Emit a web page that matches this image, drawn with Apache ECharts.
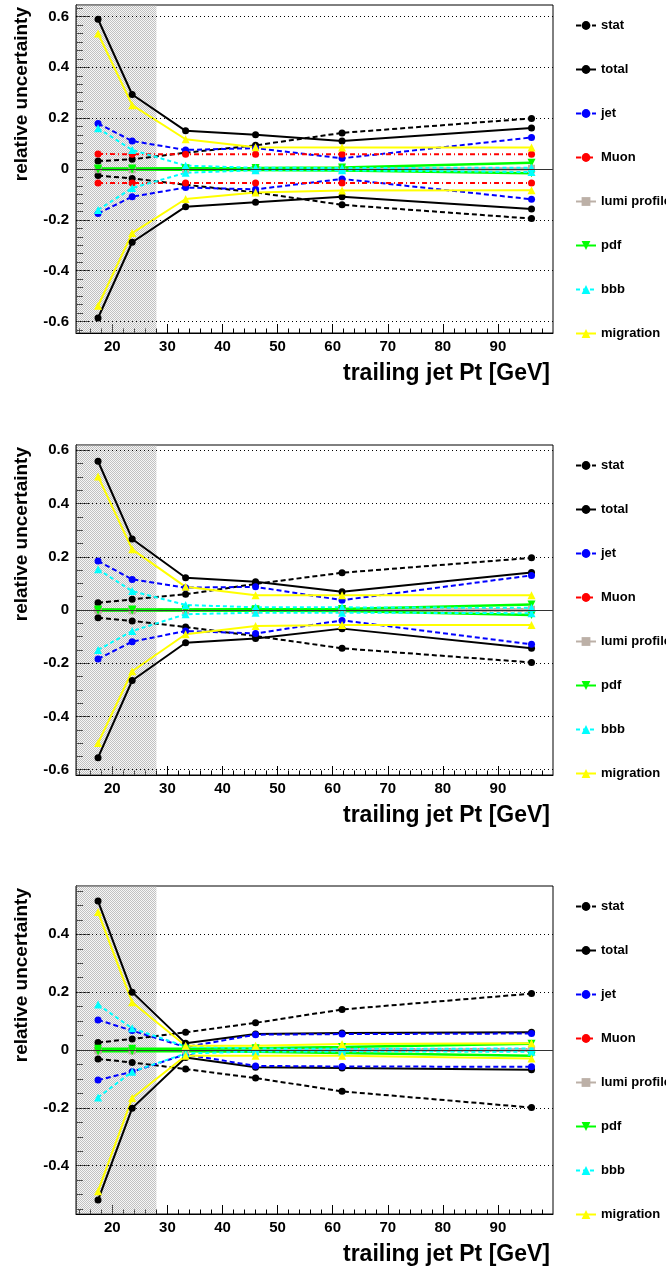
<!DOCTYPE html>
<html><head><meta charset="utf-8">
<script src="https://cdn.jsdelivr.net/npm/echarts@6/dist/echarts.min.js"></script>
<style>html,body{margin:0;padding:0;background:#fff}#c{width:666px;height:1272px}</style>
</head><body><div id="c"></div>
<script>
// ---- data (x positions of bins, GeV) ----
const ptX = [17.4, 23.6, 33.3, 46.0, 61.7, 96.1];
const legendNames = ['stat','total','jet','Muon','lumi profile','pdf','bbb','migration'];

// panel 1
const stat_up1  = [0.031, 0.038, 0.064, 0.093, 0.142, 0.199];
const stat_dn1  = [-0.026, -0.037, -0.062, -0.092, -0.141, -0.195];
const total_up1 = [0.589, 0.293, 0.150, 0.135, 0.110, 0.161];
const total_dn1 = [-0.586, -0.288, -0.148, -0.131, -0.109, -0.157];
const jet_up1   = [0.179, 0.110, 0.075, 0.082, 0.042, 0.124];
const jet_dn1   = [-0.175, -0.109, -0.073, -0.080, -0.039, -0.119];
const muon_up1  = [0.059, 0.058, 0.058, 0.058, 0.058, 0.058];
const muon_dn1  = [-0.055, -0.055, -0.055, -0.055, -0.055, -0.055];
const lumi_up1  = [0.003, 0.003, 0.003, 0.003, 0.003, 0.003];
const lumi_dn1  = [-0.003, -0.003, -0.003, -0.003, -0.003, -0.003];
const pdf_up1   = [0.002, 0.002, 0.003, 0.004, 0.006, 0.025];
const pdf_dn1   = [-0.002, -0.002, -0.003, -0.004, -0.006, -0.017];
const bbb_up1   = [0.160, 0.075, 0.013, 0.005, 0.004, 0.005];
const bbb_dn1   = [-0.161, -0.075, -0.015, -0.005, -0.005, -0.012];
const mig_up1   = [0.533, 0.251, 0.117, 0.086, 0.085, 0.085];
const mig_dn1   = [-0.538, -0.252, -0.118, -0.092, -0.085, -0.084];

// panel 2
const stat_up2  = [0.027, 0.040, 0.059, 0.098, 0.140, 0.196];
const stat_dn2  = [-0.029, -0.041, -0.064, -0.098, -0.144, -0.197];
const total_up2 = [0.559, 0.267, 0.121, 0.106, 0.069, 0.141];
const total_dn2 = [-0.555, -0.265, -0.123, -0.107, -0.070, -0.144];
const jet_up2   = [0.184, 0.115, 0.084, 0.087, 0.037, 0.130];
const jet_dn2   = [-0.184, -0.119, -0.079, -0.088, -0.039, -0.129];
const muon_up2  = [0.002, 0.002, 0.002, 0.002, 0.002, 0.002];
const muon_dn2  = [-0.002, -0.002, -0.002, -0.002, -0.002, -0.002];
const lumi_up2  = [0.003, 0.003, 0.003, 0.003, 0.003, 0.003];
const lumi_dn2  = [-0.003, -0.003, -0.003, -0.003, -0.003, -0.003];
const pdf_up2   = [0.002, 0.002, 0.002, 0.003, 0.004, 0.021];
const pdf_dn2   = [-0.002, -0.002, -0.002, -0.003, -0.004, -0.019];
const bbb_up2   = [0.153, 0.071, 0.019, 0.010, 0.010, 0.008];
const bbb_dn2   = [-0.150, -0.079, -0.016, -0.010, -0.010, -0.012];
const mig_up2   = [0.502, 0.228, 0.087, 0.055, 0.055, 0.055];
const mig_dn2   = [-0.500, -0.230, -0.091, -0.060, -0.056, -0.056];

// panel 3
const stat_up3  = [0.026, 0.038, 0.061, 0.094, 0.140, 0.195];
const stat_dn3  = [-0.031, -0.043, -0.066, -0.097, -0.143, -0.199];
const total_up3 = [0.515, 0.200, 0.023, 0.055, 0.059, 0.061];
const total_dn3 = [-0.519, -0.201, -0.026, -0.060, -0.062, -0.068];
const jet_up3   = [0.104, 0.067, 0.010, 0.053, 0.055, 0.057];
const jet_dn3   = [-0.104, -0.075, -0.015, -0.055, -0.057, -0.058];
const muon_up3  = [0.003, 0.003, 0.003, 0.003, 0.003, 0.003];
const muon_dn3  = [-0.003, -0.003, -0.003, -0.003, -0.003, -0.003];
const lumi_up3  = [0.003, 0.003, 0.003, 0.003, 0.003, 0.003];
const lumi_dn3  = [-0.003, -0.003, -0.003, -0.003, -0.003, -0.003];
const pdf_up3   = [0.004, 0.004, 0.004, 0.006, 0.010, 0.022];
const pdf_dn3   = [-0.004, -0.004, -0.004, -0.006, -0.010, -0.020];
const bbb_up3   = [0.157, 0.075, 0.012, 0.005, 0.004, 0.005];
const bbb_dn3   = [-0.164, -0.075, -0.012, -0.005, -0.005, -0.006];
const mig_up3   = [0.477, 0.165, 0.015, 0.015, 0.021, 0.023];
const mig_dn3   = [-0.488, -0.166, -0.020, -0.020, -0.020, -0.029];

// ---- axes / ticks ----
const xMin = 13.4, xMax = 100, shadeEnd = 28;
const xMajor = [20, 30, 40, 50, 60, 70, 80, 90];
const xMinor = [14,16,18,22,24,26,28,32,34,36,38,42,44,46,48,52,54,56,58,62,64,66,68,72,74,76,78,82,84,86,88,92,94,96,98];
const yMajor1 = [-0.6, -0.4, -0.2, 0, 0.2, 0.4, 0.6];
const yMajor2 = [-0.6, -0.4, -0.2, 0, 0.2, 0.4, 0.6];
const yMajor3 = [-0.4, -0.2, 0, 0.2, 0.4];
const yRange = [0.645, 0.62, 0.567];
const yMinorStep = [0.2/6, 0.05, 0.05];

const panels = [
  {top: 5,   height: 328, major: yMajor1, d: {stat:[stat_up1,stat_dn1], total:[total_up1,total_dn1], jet:[jet_up1,jet_dn1], 'Muon':[muon_up1,muon_dn1], 'lumi profile':[lumi_up1,lumi_dn1], pdf:[pdf_up1,pdf_dn1], bbb:[bbb_up1,bbb_dn1], migration:[mig_up1,mig_dn1]}},
  {top: 445, height: 330, major: yMajor2, d: {stat:[stat_up2,stat_dn2], total:[total_up2,total_dn2], jet:[jet_up2,jet_dn2], 'Muon':[muon_up2,muon_dn2], 'lumi profile':[lumi_up2,lumi_dn2], pdf:[pdf_up2,pdf_dn2], bbb:[bbb_up2,bbb_dn2], migration:[mig_up2,mig_dn2]}},
  {top: 886, height: 328, major: yMajor3, d: {stat:[stat_up3,stat_dn3], total:[total_up3,total_dn3], jet:[jet_up3,jet_dn3], 'Muon':[muon_up3,muon_dn3], 'lumi profile':[lumi_up3,lumi_dn3], pdf:[pdf_up3,pdf_dn3], bbb:[bbb_up3,bbb_dn3], migration:[mig_up3,mig_dn3]}}
];

const styles = {
  'stat':         {color:'#000000', type:[5,3],     width:2, symbol:'circle', size:7},
  'total':        {color:'#000000', type:'solid',   width:2, symbol:'circle', size:7},
  'jet':          {color:'#0000ff', type:[5,3],     width:2, symbol:'circle', size:7},
  'Muon':         {color:'#ff0000', type:[5,3,1,3], width:2, symbol:'circle', size:7},
  'lumi profile': {color:'#bcb0a7', type:'solid',   width:2, symbol:'rect', size:7},
  'pdf':          {color:'#00ff00', type:'solid',   width:2.5, symbol:'path://M0,0 L10,0 L5,9 Z', size:8},
  'bbb':          {color:'#00ffff', type:[4,3],     width:2, symbol:'triangle', size:8},
  'migration':    {color:'#ffff00', type:'solid',   width:2, symbol:'triangle', size:8}
};

function makePattern(){
  const c = document.createElement('canvas'); c.width = 2; c.height = 2;
  const g = c.getContext('2d');
  g.fillStyle = 'rgba(225,225,225,0.3)'; g.fillRect(0,0,2,2);
  g.fillStyle = 'rgba(120,120,120,0.42)'; g.fillRect(0,0,1,1); g.fillRect(1,1,1,1);
  return c;
}
const pattern = makePattern();

const FONT = 'Liberation Sans';
const grid = [], xAxis = [], yAxis = [], series = [], legend = [], graphic = [];

panels.forEach((p, i) => {
  const r = yRange[i];
  grid.push({left: 76, width: 477, top: p.top, height: p.height, show: true, borderColor: '#000', borderWidth: 1, backgroundColor: 'transparent'});
  const yMinor = [];
  for (let v = -Math.floor(r / yMinorStep[i]) * yMinorStep[i]; v <= r + 1e-9; v += yMinorStep[i]) yMinor.push(+v.toFixed(4));
  xAxis.push({gridIndex: i, type: 'value', min: xMin, max: xMax, position: 'bottom',
    axisLine: {onZero: false, lineStyle: {color: '#000', width: 1}},
    axisTick: {inside: true, length: 9, customValues: xMajor, lineStyle: {color: '#000'}},
    axisLabel: {customValues: xMajor, margin: 6, color: '#000', fontSize: 15, fontWeight: 'bold', fontFamily: FONT},
    splitLine: {show: false}});
  xAxis.push({gridIndex: i, type: 'value', min: xMin, max: xMax, position: 'bottom',
    axisLine: {show: false, onZero: false},
    axisTick: {inside: true, length: 4.5, customValues: xMinor, lineStyle: {color: '#000'}},
    axisLabel: {show: false}, splitLine: {show: false}});
  yAxis.push({gridIndex: i, type: 'value', min: -r, max: r, position: 'left',
    axisLine: {onZero: false, lineStyle: {color: '#000', width: 1}},
    axisTick: {inside: true, length: 14, customValues: p.major, lineStyle: {color: '#000'}},
    axisLabel: {customValues: p.major, margin: 7, color: '#000', fontSize: 15, fontWeight: 'bold', fontFamily: FONT,
      formatter: v => String(+v.toFixed(2))},
    splitLine: {show: false}});
  yAxis.push({gridIndex: i, type: 'value', min: -r, max: r, position: 'left',
    axisLine: {show: false, onZero: false},
    axisTick: {inside: true, length: 7, customValues: yMinor, lineStyle: {color: '#000'}},
    axisLabel: {show: false}, splitLine: {show: false}});

  // grid lines
  series.push({type: 'line', xAxisIndex: 2*i, yAxisIndex: 2*i, data: [], silent: true, z: 1,
    markLine: {silent: true, symbol: 'none', label: {show: false}, animation: false,
      data: p.major.map(v => ({yAxis: v, lineStyle: v === 0 ? {color: '#333', width: 1, type: 'solid'} : {color: '#000', width: 1, type: [1, 3]}}))}});

  legendNames.forEach(name => {
    const s = styles[name];
    p.d[name].forEach((arr) => {
      series.push({
        name, type: 'line', xAxisIndex: 2*i, yAxisIndex: 2*i,
        data: arr.map((v, k) => [ptX[k], v]),
        symbol: s.symbol, symbolSize: s.size, showAllSymbol: true,
        lineStyle: {color: s.color, width: s.width, type: s.type},
        itemStyle: {color: s.color}, z: 3, animation: false
      });
    });
  });

  // shaded region on top
  series.push({type: 'line', xAxisIndex: 2*i, yAxisIndex: 2*i, data: [], silent: true, z: 10,
    markArea: {silent: true, itemStyle: {color: {image: pattern, repeat: 'repeat'}, opacity: 1},
      data: [[{xAxis: xMin}, {xAxis: shadeEnd}]]}});

  legend.push({orient: 'vertical', left: 570, top: p.top + 9, itemGap: 31, itemWidth: 20, itemHeight: 11,
    data: legendNames, selectedMode: false,
    textStyle: {fontSize: 13, fontWeight: 'bold', fontFamily: FONT, color: '#000'}});

  graphic.push({type: 'text', x: 22, y: p.top + 2, rotation: Math.PI / 2,
    style: {text: 'relative uncertainty', font: 'bold 19px "Liberation Sans"', textAlign: 'right', textVerticalAlign: 'middle', fill: '#000'}});
  graphic.push({type: 'text', x: 550, y: p.top + p.height + 41,
    style: {text: 'trailing jet Pt [GeV]', font: 'bold 23px "Liberation Sans"', textAlign: 'right', textVerticalAlign: 'middle', fill: '#000'}});
});

const chart = echarts.init(document.getElementById('c'), null, {renderer: 'canvas'});
chart.setOption({animation: false, backgroundColor: '#fff', grid, xAxis, yAxis, series, legend, graphic});
</script>
</body></html>
